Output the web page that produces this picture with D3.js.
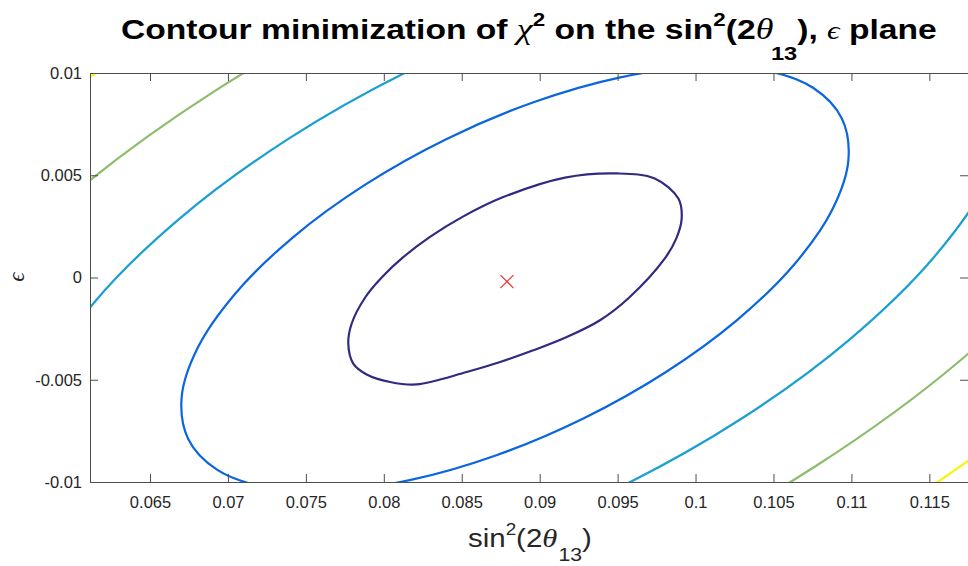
<!DOCTYPE html>
<html>
<head>
<meta charset="utf-8">
<script src="https://cdn.jsdelivr.net/npm/d3@7"></script>
<style>
  html, body { margin: 0; padding: 0; background: #fff; overflow: hidden; }
</style>
</head>
<body>
<svg id="chart" width="968" height="566"></svg>
<script>
// chi^2 contour lines on the (sin^2(2θ13), ε) plane; each point is [sin^2(2θ13), ε].
// Every contour is a closed loop; the outer ones are cut by the plot frame.

// 1st level (innermost)
const contourLevel1 = [
  [0.07772, -0.00323], [0.07794, -0.00225], [0.078814, -0.000965], [0.079879, 0.000015],
  [0.081245, 0.000994], [0.082939, 0.001974], [0.085018, 0.002953], [0.087661, 0.003932],
  [0.091626, 0.004887], [0.09494, 0.00509], [0.09738, 0.00484], [0.09890, 0.00386],
  [0.09911, 0.00288], [0.09876, 0.00190], [0.09802, 0.00092], [0.09573, -0.00099],
  [0.09387, -0.00209], [0.09174, -0.00291], [0.08959, -0.00356], [0.08746, -0.00413],
  [0.08532, -0.00462], [0.08211, -0.00523], [0.08040, -0.00511], [0.07890, -0.00474],
  [0.07804, -0.00421]
];

// 2nd level
const contourLevel2 = [
  [0.109386, 0.007776], [0.109806, 0.005741], [0.108768, 0.003309], [0.106344, 0.000649],
  [0.102700, -0.002059], [0.098080, -0.004633], [0.092803, -0.006893], [0.087228, -0.008689],
  [0.081732, -0.009895], [0.076692, -0.010431], [0.072452, -0.010263], [0.069298, -0.009395],
  [0.067450, -0.007894], [0.067030, -0.005859], [0.068068, -0.003427], [0.070492, -0.000767],
  [0.074136, 0.001941], [0.078756, 0.004515], [0.084033, 0.006775], [0.089608, 0.008571],
  [0.095104, 0.009777], [0.100144, 0.010313], [0.104384, 0.010145], [0.107538, 0.009277]
];

// 3rd level
const contourLevel3 = [
  [0.119870, 0.011694], [0.120500, 0.008641], [0.118943, 0.004993], [0.115307, 0.001003],
  [0.109841, -0.003059], [0.102911, -0.006920], [0.094995, -0.010310], [0.086633, -0.013004],
  [0.078389, -0.014813], [0.070829, -0.015617], [0.064469, -0.015365], [0.059738, -0.014063],
  [0.056966, -0.011812], [0.056336, -0.008759], [0.057893, -0.005111], [0.061529, -0.001121],
  [0.066995, 0.002941], [0.073925, 0.006802], [0.081841, 0.010192], [0.090203, 0.012886],
  [0.098447, 0.014695], [0.106007, 0.015499], [0.112367, 0.015247], [0.117098, 0.013945]
];

// 4th level
const contourLevel4 = [
  [0.130354, 0.015612], [0.131194, 0.011541], [0.129118, 0.006677], [0.124270, 0.001357],
  [0.116982, -0.004059], [0.107742, -0.009207], [0.097188, -0.013727], [0.086038, -0.017319],
  [0.075046, -0.019731], [0.064966, -0.020803], [0.056486, -0.020467], [0.050178, -0.018731],
  [0.046482, -0.015729], [0.045642, -0.011659], [0.047718, -0.006795], [0.052566, -0.001475],
  [0.059854, 0.003941], [0.069094, 0.009089], [0.079650, 0.013609], [0.090798, 0.017201],
  [0.101790, 0.019613], [0.111870, 0.020685], [0.120350, 0.020349], [0.126658, 0.018613]
];

// 5th level
const contourLevel5 = [
  [0.140838, 0.019529], [0.141888, 0.014441], [0.139293, 0.008361], [0.133233, 0.001711],
  [0.124123, -0.005059], [0.112573, -0.011494], [0.099380, -0.017144], [0.085443, -0.021634],
  [0.071703, -0.024649], [0.059103, -0.025989], [0.048503, -0.025569], [0.040618, -0.023399],
  [0.035998, -0.019647], [0.034948, -0.014559], [0.037543, -0.008479], [0.043603, -0.001829],
  [0.052713, 0.004941], [0.064263, 0.011376], [0.077456, 0.017027], [0.091393, 0.021516],
  [0.105133, 0.024531], [0.117733, 0.025871], [0.128333, 0.025451], [0.136218, 0.023281]
];

// best-fit point
const bestFit = [0.0879, -0.0002];

// axis ticks and ranges
const xTicks = [0.065, 0.07, 0.075, 0.08, 0.085, 0.09, 0.095, 0.1, 0.105, 0.11, 0.115];
const xTickLabels = ["0.065", "0.07", "0.075", "0.08", "0.085", "0.09", "0.095", "0.1", "0.105", "0.11", "0.115"];
const yTicks = [-0.01, -0.005, 0, 0.005, 0.01];
const yTickLabels = ["-0.01", "-0.005", "0", "0.005", "0.01"];
const xDomain = [0.06115, 0.11748];
const yDomain = [-0.01, 0.01];

const contours = [contourLevel1, contourLevel2, contourLevel3, contourLevel4, contourLevel5];

// parula-like colours, one per level
const levelColors = ["#302a80", "#0a66df", "#1b9fd3", "#8bbd6c", "#f5f511"];

const svg = d3.select("#chart");
const plot = { left: 90, right: 968, top: 73, bottom: 482 };
const axisColor = "#4d4d4d";
const sans = "'Liberation Sans', Arial, Helvetica, sans-serif";
const serif = "'Liberation Serif', 'DejaVu Serif', serif";

const x = d3.scaleLinear().domain(xDomain).range([plot.left, plot.right]);
const y = d3.scaleLinear().domain(yDomain).range([plot.bottom, plot.top]);

svg.append("defs").append("clipPath").attr("id", "plotClip")
  .append("rect")
  .attr("x", plot.left).attr("y", plot.top)
  .attr("width", plot.right - plot.left).attr("height", plot.bottom - plot.top);

// contour lines
const loop = d3.line().x(d => x(d[0])).y(d => y(d[1])).curve(d3.curveCatmullRomClosed.alpha(0.5));

svg.append("g").attr("clip-path", "url(#plotClip)")
  .selectAll("path")
  .data(contours)
  .join("path")
  .attr("d", d => loop(d))
  .attr("fill", "none")
  .attr("stroke", (d, i) => levelColors[i])
  .attr("stroke-width", 2.2)
  .attr("stroke-linejoin", "round");

// best-fit marker (x)
const mk = 6.5;
const bx = x(bestFit[0]), by = y(bestFit[1]);
svg.append("g").attr("class", "marker")
  .selectAll("line")
  .data([[-1, -1, 1, 1], [-1, 1, 1, -1]])
  .join("line")
  .attr("x1", d => bx + d[0] * mk).attr("y1", d => by + d[1] * mk)
  .attr("x2", d => bx + d[2] * mk).attr("y2", d => by + d[3] * mk)
  .attr("stroke", "#ff2020").attr("stroke-width", 1.1);

// axes with inward ticks
function styleAxis(g) {
  g.select(".domain").attr("stroke", axisColor).attr("stroke-width", 1);
  g.selectAll(".tick line").attr("stroke", axisColor).attr("stroke-width", 1);
  g.selectAll(".tick text").attr("fill", "#262626").attr("font-family", sans).attr("font-size", 16.5);
}

svg.append("g")
  .attr("transform", `translate(0,${plot.bottom})`)
  .call(d3.axisBottom(x).tickValues(xTicks).tickFormat((d, i) => xTickLabels[i])
    .tickSizeInner(-8).tickSizeOuter(0).tickPadding(14))
  .call(styleAxis);

svg.append("g")
  .attr("transform", `translate(0,${plot.top})`)
  .call(d3.axisTop(x).tickValues(xTicks).tickFormat("")
    .tickSizeInner(-8).tickSizeOuter(0))
  .call(styleAxis);

svg.append("g")
  .attr("transform", `translate(${plot.left},0)`)
  .call(d3.axisLeft(y).tickValues(yTicks).tickFormat((d, i) => yTickLabels[i])
    .tickSizeInner(-8).tickSizeOuter(0).tickPadding(8))
  .call(styleAxis);

svg.append("g")
  .attr("transform", `translate(${plot.right},0)`)
  .call(d3.axisRight(y).tickValues(yTicks).tickFormat("")
    .tickSizeInner(-8).tickSizeOuter(0))
  .call(styleAxis);

// stretch a text element horizontally so it spans [left, right]
function fitWidth(sel, left, right) {
  const b = sel.node().getBBox();
  const k = (right - left) / b.width;
  sel.attr("transform", `translate(${left - b.x * k},0) scale(${k},1)`);
}

// title
const title = svg.append("text")
  .attr("x", 0).attr("y", 39)
  .attr("font-family", sans).attr("font-weight", "bold").attr("font-size", 27)
  .attr("fill", "#000");
title.append("tspan").text("Contour minimization of ");
title.append("tspan").attr("font-family", serif).attr("font-style", "italic")
  .attr("font-weight", "normal").attr("font-size", 29).text("\u03C7");
title.append("tspan").attr("font-size", 18).attr("dy", -13).text("2");
title.append("tspan").attr("dy", 13).text(" on the sin");
title.append("tspan").attr("font-size", 18).attr("dy", -13).text("2");
title.append("tspan").attr("dy", 13).text("(2");
title.append("tspan").attr("font-family", serif).attr("font-style", "italic")
  .attr("font-weight", "normal").attr("font-size", 29).text("\u03B8");
title.append("tspan").attr("font-size", 19).attr("dy", 21).attr("dx", -2).text("13");
title.append("tspan").attr("dy", -21).text("), ");
title.append("tspan").attr("font-family", serif).attr("font-style", "italic")
  .attr("font-weight", "normal").attr("font-size", 25).text("\u03F5");
title.append("tspan").text(" plane");
fitWidth(title, 121, 937);

// x-axis label
const xLabel = svg.append("text")
  .attr("x", 0).attr("y", 547)
  .attr("font-family", sans).attr("font-size", 25).attr("fill", "#262626");
xLabel.append("tspan").text("sin");
xLabel.append("tspan").attr("font-size", 16).attr("dy", -12).text("2");
xLabel.append("tspan").attr("dy", 12).text("(2");
xLabel.append("tspan").attr("font-family", serif).attr("font-style", "italic").attr("font-size", 26).text("\u03B8");
xLabel.append("tspan").attr("font-size", 18).attr("dy", 14).attr("dx", 1).text("13");
xLabel.append("tspan").attr("dy", -14).text(")");
fitWidth(xLabel, 468, 592);

// y-axis label
svg.append("text")
  .attr("transform", "translate(24,277) rotate(-90)")
  .attr("text-anchor", "middle")
  .attr("font-family", serif).attr("font-style", "italic").attr("font-size", 23)
  .attr("fill", "#262626")
  .text("\u03F5");
</script>
</body>
</html>
